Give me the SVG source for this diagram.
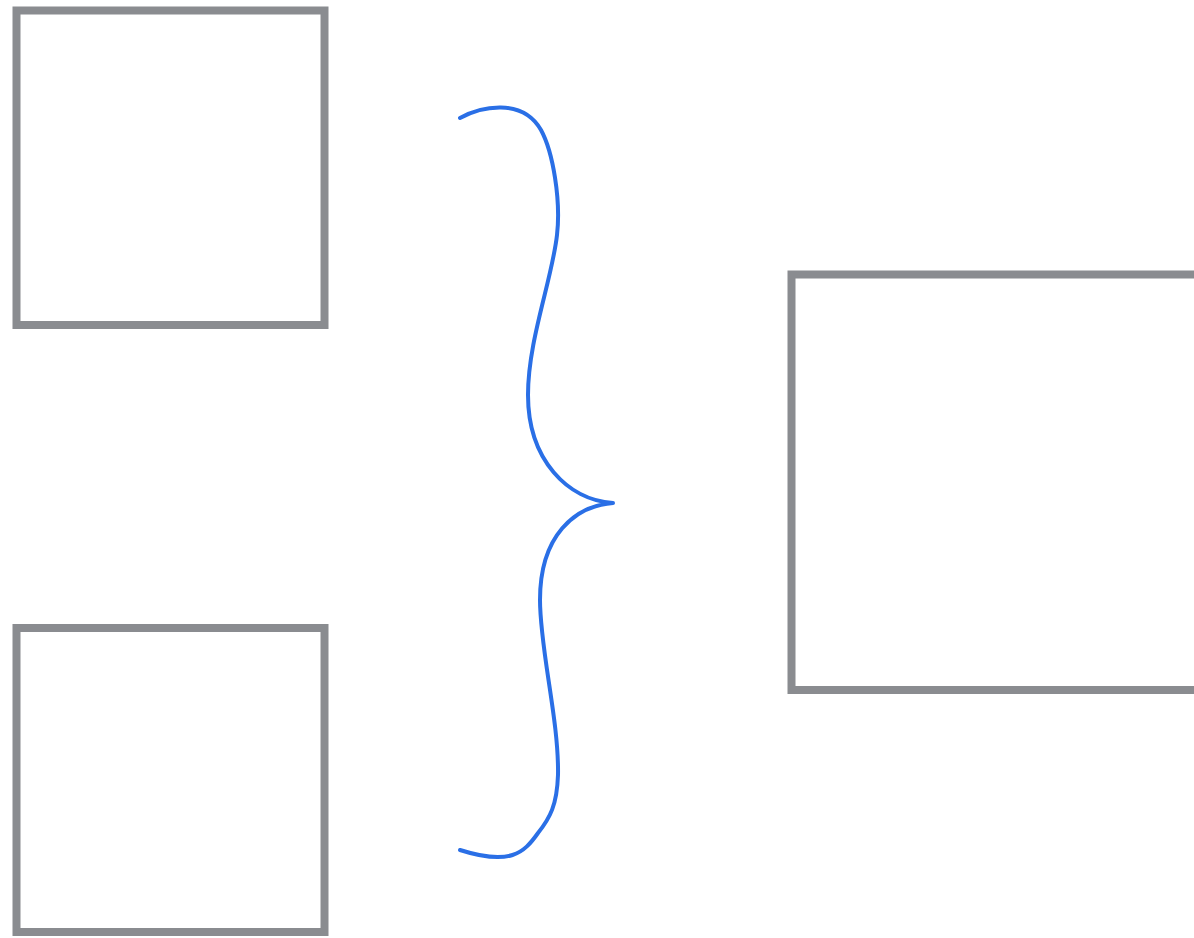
<svg xmlns="http://www.w3.org/2000/svg" width="1194" height="938" viewBox="0 0 1194 938">
<style>
.box{fill:#ffffff;stroke:#8a8c90;stroke-width:8}
.brace{fill:none;stroke:#2a6fe6;stroke-width:4;stroke-linecap:round;stroke-linejoin:round}
</style>
<rect width="1194" height="938" fill="#ffffff"/>
<g id="box-top-left"><rect class="box" x="16.5" y="10.5" width="308" height="314.5"/></g>
<g id="box-bottom-left"><rect class="box" x="16.5" y="628" width="308" height="304"/></g>
<g id="box-right"><rect class="box" x="791.5" y="274.5" width="420" height="415.5"/></g>
<g id="connectors">
<path class="brace" d="M 460 118 C 480 107, 522 97, 541 130 C 553 152, 561 200, 557 235 C 552 280, 528 340, 528 395 C 528 460, 568 500, 613 503 C 575 506, 540 535, 540 600 C 540 650, 559 720, 558 775 C 557 805, 550 818, 538 833 C 524 853, 510 866, 460 850"/>
</g>
</svg>
